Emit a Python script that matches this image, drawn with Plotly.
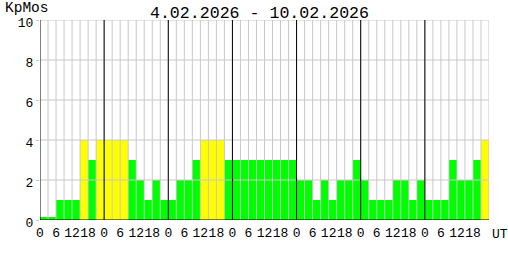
import plotly.graph_objects as go

# Data: 3-hour Kp (Moscow) values, 8 per day, 4.02.2026 - 10.02.2026
days = ["4.02", "5.02", "6.02", "7.02", "8.02", "9.02", "10.02"]
kp_day1 = [0.15, 0.15, 1, 1, 1, 4, 3, 4]
kp_day2 = [4, 4, 4, 3, 2, 1, 2, 1]
kp_day3 = [1, 2, 2, 3, 4, 4, 4, 3]
kp_day4 = [3, 3, 3, 3, 3, 3, 3, 3]
kp_day5 = [2, 2, 1, 2, 1, 2, 2, 3]
kp_day6 = [2, 1, 1, 1, 2, 2, 1, 2]
kp_day7 = [1, 1, 1, 3, 2, 2, 3, 4]
hour_labels = ["0", "6", "12", "18"]
y_ticks = [0, 2, 4, 6, 8, 10]

kp = kp_day1 + kp_day2 + kp_day3 + kp_day4 + kp_day5 + kp_day6 + kp_day7
n = len(kp)
per_day = 8
x = [i + 0.5 for i in range(n)]


def colour(v):
    if v >= 5:
        return "#FF0000"
    if v >= 4:
        return "#FFFF00"
    return "#00FF00"


colors = [colour(v) for v in kp]

FONT = "Liberation Mono"
GRID = "#c8c8c8"

fig = go.Figure(
    go.Bar(x=x, y=kp, width=1, marker=dict(color=colors, line=dict(width=0)),
           hoverinfo="skip")
)

shapes = []
# grey grid (drawn above bars, as in the original)
for b in range(1, n + 1):
    shapes.append(dict(type="line", xref="x", yref="y", x0=b, x1=b, y0=0, y1=10,
                       line=dict(color=GRID, width=1), layer="above"))
for t in y_ticks[1:]:
    shapes.append(dict(type="line", xref="x", yref="y", x0=0, x1=n, y0=t, y1=t,
                       line=dict(color=GRID, width=1), layer="above"))
# black day separators
for d in range(1, len(days)):
    xd = d * per_day
    shapes.append(dict(type="line", xref="x", yref="y", x0=xd, x1=xd, y0=0, y1=10,
                       line=dict(color="black", width=1), layer="above"))
# axes
shapes.append(dict(type="line", xref="x", yref="y", x0=0, x1=n, y0=0, y1=0,
                   line=dict(color="black", width=1), layer="above"))
shapes.append(dict(type="line", xref="x", yref="y", x0=0, x1=0, y0=0, y1=10,
                   line=dict(color="black", width=1), layer="above"))

tickvals = [d * per_day + k * 2 for d in range(len(days)) for k in range(len(hour_labels))]
ticktext = hour_labels * len(days)

fig.update_layout(
    width=508, height=260,
    margin=dict(l=40, r=19, t=20, b=40, pad=0),
    paper_bgcolor="white", plot_bgcolor="white",
    showlegend=False,
    bargap=0,
    shapes=shapes,
    title=dict(text=f"{days[0]}.2026 - {days[-1]}.2026", x=259.5 / 508, xanchor="center",
               y=1 - 12 / 260, yanchor="middle", yref="container",
               font=dict(family=FONT, size=16.6, color="black")),
    annotations=[
        dict(text="KpMos", xref="paper", yref="paper", x=-40 / 449, y=1 + 12 / 200,
             xanchor="left", yanchor="middle", xshift=3, showarrow=False,
             font=dict(family=FONT, size=14.5, color="black")),
        dict(text="UT", xref="paper", yref="paper", x=1, y=-14 / 200,
             xanchor="left", yanchor="middle", xshift=1, showarrow=False,
             font=dict(family=FONT, size=13, color="black")),
    ],
    xaxis=dict(range=[0, n], tickmode="array", tickvals=tickvals, ticktext=ticktext,
               tickangle=0, showgrid=False, zeroline=False, showline=False,
               ticks="", ticklabelstandoff=3,
               tickfont=dict(family=FONT, size=13, color="black"),
               fixedrange=True),
    yaxis=dict(range=[0, 10], tickmode="array", tickvals=y_ticks,
               showgrid=False, zeroline=False, showline=False,
               ticks="outside", ticklen=3, tickcolor=GRID, ticklabelshift=2,
               tickfont=dict(family=FONT, size=13, color="black"),
               fixedrange=True),
)

fig.write_html("out.html")
